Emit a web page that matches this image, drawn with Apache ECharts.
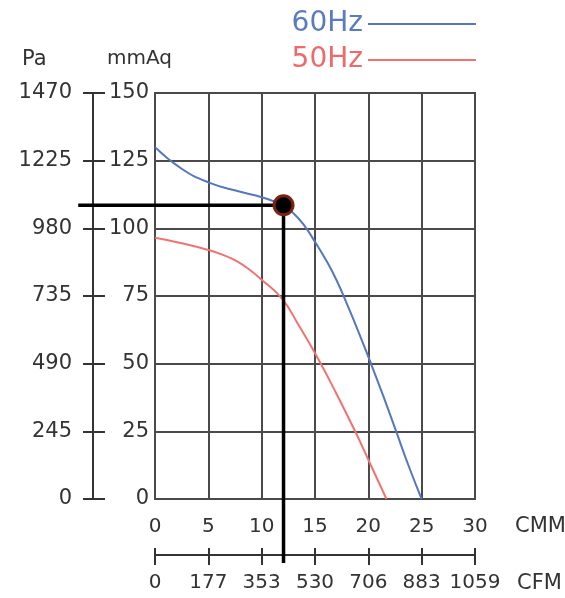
<!DOCTYPE html>
<html>
<head>
<meta charset="utf-8">
<title>Fan curve</title>
<script src="https://cdn.jsdelivr.net/npm/echarts/dist/echarts.min.js"></script>
<style>
html, body { margin: 0; padding: 0; background: #fff; }
#chart { width: 565px; height: 598px; }
</style>
</head>
<body>
<div id="chart"></div>
<script>
// 风量 CMM 刻度 及 对应 CFM 标签
var cmmTicks = [0, 5, 10, 15, 20, 25, 30];
var cfmLabels = ['0', '177', '353', '530', '706', '883', '1059'];
// 静压 mmAq 刻度 及 对应 Pa 标签
var mmAqTicks = [0, 25, 50, 75, 100, 125, 150];
var paLabels = ['0', '245', '490', '735', '980', '1225', '1470'];

// 曲线 [CMM, mmAq]
var hz60 = [[0, 130], [2.5, 122], [5, 117], [8, 113.5], [10, 111.5], [12, 108.5], [13, 105.5],
    [14, 101], [15, 95], [16, 88.5], [17, 81], [18, 72], [19, 62.5], [20.3, 49.5], [21.5, 37],
    [22.66, 24.4], [23.8, 12], [25, 0]];
var hz50 = [[0, 96.5], [2.5, 94.5], [5, 92], [6.5, 90], [7.7, 87.8], [8.9, 84.6], [10, 81],
    [11.9, 74], [13.5, 64], [15.2, 52.5], [17, 39], [18.85, 24.3], [20, 14.5], [21.7, 0]];

// 工作点 及 引导线端点
var opPoint = [12.05, 108.5];
var guideLeft = [-7.2, 108.5];
var guideBottom = [12.05, -23.6];

var font = 'DejaVu Sans';
var gridColor = '#4a4a4a';
var textColor = '#333';

function valueAxis(extra) {
    var base = {
        type: 'value', gridIndex: 0,
        axisLine: { show: false, onZero: false },
        axisTick: { show: false },
        axisLabel: { show: false },
        splitLine: { show: false }
    };
    return Object.assign(base, extra);
}

var chart = echarts.init(document.getElementById('chart'));
chart.setOption({
    animation: false,
    backgroundColor: '#fff',
    grid: {
        left: 155, top: 93, width: 320, height: 406,
        show: true, borderColor: gridColor, borderWidth: 2
    },
    legend: {
        data: [
            { name: '60Hz', icon: 'rect', textStyle: { color: '#5a7bbf' } },
            { name: '50Hz', icon: 'rect', textStyle: { color: '#ee6a6a' } }
        ],
        orient: 'vertical',
        align: 'right',
        right: 84,
        top: 5,
        itemWidth: 108,
        itemHeight: 2,
        itemGap: 8,
        textStyle: { fontSize: 28, fontFamily: font }
    },
    xAxis: [
        // CMM
        valueAxis({
            position: 'bottom', min: 0, max: 30, interval: 5,
            axisLabel: { show: true, fontSize: 20, fontFamily: font, color: textColor, margin: 18 },
            splitLine: { show: true, lineStyle: { color: gridColor, width: 2 } }
        }),
        // CFM 外侧刻度
        valueAxis({
            position: 'bottom', offset: 56, min: 0, max: 30, interval: 5,
            axisLine: { show: true, onZero: false, lineStyle: { color: textColor, width: 2 } },
            axisTick: { show: true, length: 10, lineStyle: { color: textColor, width: 2 } },
            axisLabel: {
                show: true, fontSize: 20, fontFamily: font, color: textColor, margin: 18,
                formatter: function (v) { return cfmLabels[cmmTicks.indexOf(v)]; }
            }
        }),
        // CFM 内侧刻度
        valueAxis({
            position: 'bottom', offset: 56, min: 0, max: 30, interval: 5,
            axisTick: { show: true, inside: true, length: 7, lineStyle: { color: textColor, width: 2 } }
        })
    ],
    yAxis: [
        // mmAq
        valueAxis({
            position: 'left', min: 0, max: 150, interval: 25,
            axisLabel: { show: true, fontSize: 21, fontFamily: font, color: textColor, margin: 6 },
            splitLine: { show: true, lineStyle: { color: gridColor, width: 2 } }
        }),
        // Pa 外侧刻度
        valueAxis({
            position: 'left', offset: 62, min: 0, max: 150, interval: 25,
            axisLine: { show: true, onZero: false, lineStyle: { color: textColor, width: 2 } },
            axisTick: { show: true, length: 10, lineStyle: { color: textColor, width: 2 } },
            axisLabel: {
                show: true, fontSize: 21, fontFamily: font, color: textColor, margin: 21,
                formatter: function (v) { return paLabels[mmAqTicks.indexOf(v)]; }
            }
        }),
        // Pa 内侧刻度
        valueAxis({
            position: 'left', offset: 62, min: 0, max: 150, interval: 25,
            axisTick: { show: true, inside: true, length: 12, lineStyle: { color: textColor, width: 2 } }
        })
    ],
    series: [{
        name: '60Hz', type: 'line', data: hz60, smooth: 0.5, symbol: 'none',
        lineStyle: { color: '#5577bb', width: 2 }, itemStyle: { color: '#5577bb' }, z: 3
    }, {
        name: '50Hz', type: 'line', data: hz50, smooth: 0.5, symbol: 'none',
        lineStyle: { color: '#f07373', width: 2 }, itemStyle: { color: '#f07373' }, z: 3
    }, {
        type: 'scatter', data: [opPoint], symbolSize: 19, clip: false, silent: true,
        itemStyle: { color: '#000', borderColor: '#7a2410', borderWidth: 3, opacity: 1 }, z: 6
    }]
});

// 引导线：由坐标系换算到像素
var pOp = chart.convertToPixel({ gridIndex: 0 }, opPoint);
var pLeft = chart.convertToPixel({ gridIndex: 0 }, guideLeft);
var pBottom = chart.convertToPixel({ gridIndex: 0 }, guideBottom);
var guideStyle = { stroke: '#000', lineWidth: 3.5 };

chart.setOption({
    graphic: [
        { type: 'text', left: 22, top: 49, style: { text: 'Pa', fontSize: 21, fontFamily: font, fill: textColor } },
        { type: 'text', left: 107, top: 49, style: { text: 'mmAq', fontSize: 20, fontFamily: font, fill: textColor } },
        { type: 'text', left: 515, top: 516, style: { text: 'CMM', fontSize: 21, fontFamily: font, fill: textColor } },
        { type: 'text', left: 517, top: 573, style: { text: 'CFM', fontSize: 21, fontFamily: font, fill: textColor } },
        { type: 'line', z: 5, silent: true, style: guideStyle,
          shape: { x1: pLeft[0], y1: pLeft[1], x2: pOp[0], y2: pOp[1] } },
        { type: 'line', z: 5, silent: true, style: guideStyle,
          shape: { x1: pOp[0], y1: pOp[1], x2: pBottom[0], y2: pBottom[1] } }
    ]
});
</script>
</body>
</html>
